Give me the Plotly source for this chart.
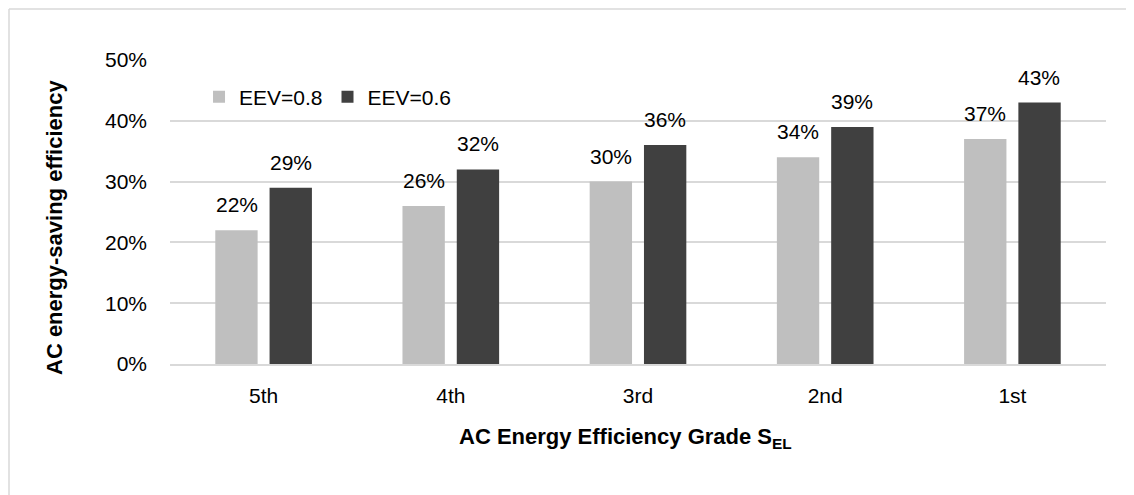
import plotly.graph_objects as go

categories = ["5th", "4th", "3rd", "2nd", "1st"]
eev08 = [0.22, 0.26, 0.30, 0.34, 0.37]
eev06 = [0.29, 0.32, 0.36, 0.39, 0.43]
series_names = ["EEV=0.8", "EEV=0.6"]
colors = ["#bfbfbf", "#404040"]

FONT = "Liberation Sans, Arial, sans-serif"
FS = 21

# figure geometry (page has an 8px body margin)
W, H = 1126, 487
ML, MT, PW, PH = 162, 52, 936, 304

fig = go.Figure()
for name, vals, col in zip(series_names, [eev08, eev06], colors):
    fig.add_trace(go.Bar(x=categories, y=vals, name=name, marker=dict(color=col, line=dict(width=0))))

# data labels
for vals, shift in [(eev08, -27), (eev06, 27)]:
    for c, v in zip(categories, vals):
        fig.add_annotation(x=c, y=v, xref="x", yref="y", text=f"{round(v*100)}%",
                           showarrow=False, xshift=shift, yanchor="bottom", yshift=12,
                           font=dict(family=FONT, size=FS, color="#000"))

# axis titles
fig.add_annotation(x=(617 - ML) / PW, y=-(430 - MT - PH) / PH, xref="paper", yref="paper",
                   text="<b>AC Energy Efficiency Grade S<sub>EL</sub></b>", showarrow=False,
                   xanchor="center", yanchor="middle", font=dict(family=FONT, size=22, color="#000"))
fig.add_annotation(x=-(ML - 47) / PW, y=(MT + PH - 220) / PH, xref="paper", yref="paper",
                   text="<b>AC energy-saving efficiency</b>", showarrow=False, textangle=-90,
                   xanchor="center", yanchor="middle", font=dict(family=FONT, size=22, color="#000"))

fig.update_layout(
    width=W, height=H,
    margin=dict(l=ML, r=W - ML - PW, t=MT, b=H - MT - PH),
    plot_bgcolor="white", paper_bgcolor="white",
    barmode="group", bargap=0.42, bargroupgap=0.22,
    font=dict(family=FONT, size=FS, color="#000"),
    legend=dict(orientation="h", x=0.031, y=0.945, xanchor="left", yanchor="top",
                font=dict(size=FS), bgcolor="rgba(0,0,0,0)", itemwidth=30, traceorder="normal"),
    showlegend=True,
)
fig.update_yaxes(range=[0, 0.5], dtick=0.1, tickformat=".0%", showgrid=True,
                 gridcolor="#d9d9d9", gridwidth=1.5, zeroline=False, showline=False,
                 ticks="", ticklabelstandoff=22)
fig.update_xaxes(showline=True, linecolor="#d9d9d9", linewidth=1.5, ticks="",
                 ticklabelstandoff=12)

# outer border (left and top visible)
ytop = (MT + PH - 1) / PH
xleft = -(ML - 1) / PW
fig.add_shape(type="line", xref="paper", yref="paper", x0=xleft, x1=1.05, y0=ytop, y1=ytop,
              line=dict(color="#d9d9d9", width=1.5))
fig.add_shape(type="line", xref="paper", yref="paper", x0=xleft, x1=xleft, y0=ytop, y1=-0.6,
              line=dict(color="#d9d9d9", width=1.5))

fig.write_html("out.html")
